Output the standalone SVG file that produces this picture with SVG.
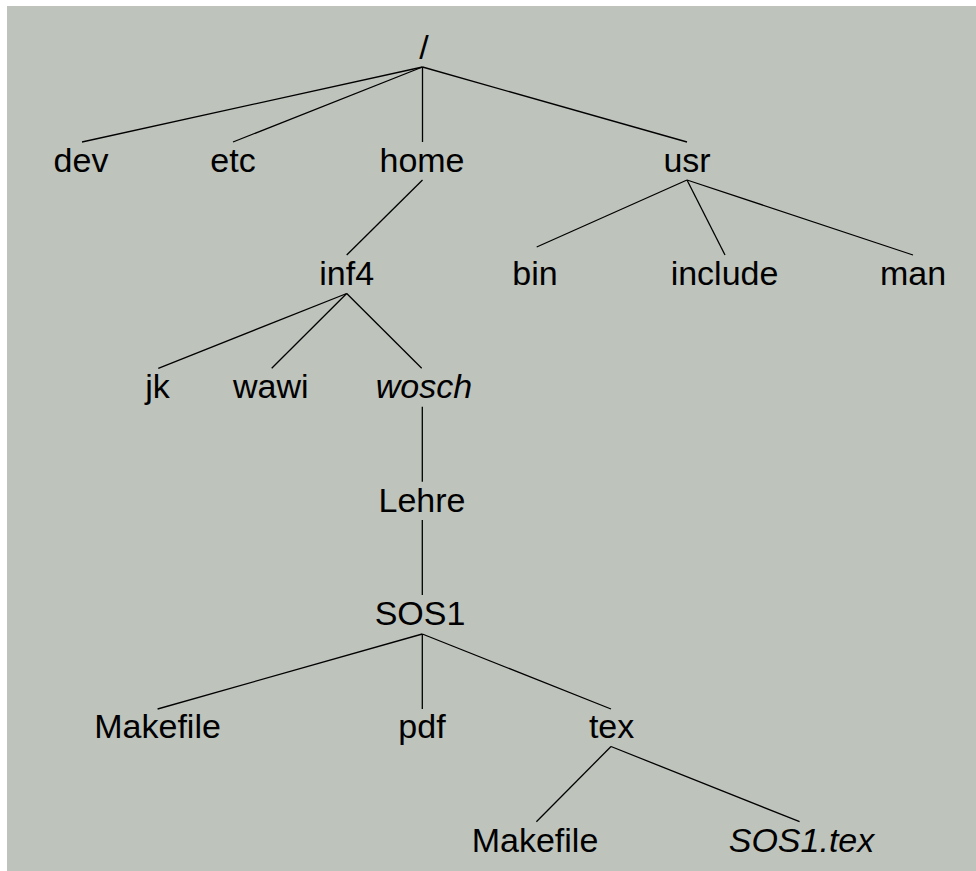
<svg xmlns="http://www.w3.org/2000/svg" width="976" height="871" viewBox="0 0 976 871">
<style>
.t{font-family:"Liberation Sans",Arial,sans-serif;font-size:34px;fill:#000;text-anchor:middle}
.i{font-style:italic}
.c line{stroke:#000;stroke-width:1.3}
</style>
<rect x="0" y="0" width="976" height="871" fill="#ffffff"/>
<rect x="7" y="6" width="969" height="865" fill="#bec3bc"/>
<g id="connectors" class="c">
<line x1="422.5" y1="67" x2="82" y2="142"/>
<line x1="422.5" y1="67" x2="233" y2="142"/>
<line x1="422.5" y1="67" x2="422.5" y2="142"/>
<line x1="422.5" y1="67" x2="687" y2="142"/>
<line x1="422.5" y1="180" x2="346.7" y2="255"/>
<line x1="687" y1="180" x2="536.7" y2="247"/>
<line x1="687" y1="180" x2="725" y2="255"/>
<line x1="687" y1="180" x2="913" y2="255"/>
<line x1="346.7" y1="293.5" x2="158.3" y2="368.3"/>
<line x1="346.7" y1="293.5" x2="271.7" y2="368.3"/>
<line x1="346.7" y1="293.5" x2="421.7" y2="368.3"/>
<line x1="422.3" y1="406.7" x2="422.3" y2="481.7"/>
<line x1="422.3" y1="520" x2="422.3" y2="595"/>
<line x1="422.3" y1="634" x2="157.6" y2="709"/>
<line x1="422.3" y1="634" x2="422.3" y2="709"/>
<line x1="422.3" y1="634" x2="611" y2="709"/>
<line x1="611" y1="746.5" x2="536.4" y2="821.7"/>
<line x1="611" y1="746.5" x2="799.6" y2="821.7"/>
</g>
<g id="n-root"><text class="t" x="424" y="59">/</text></g>
<g id="n-dev"><text class="t" x="81" y="172">dev</text></g>
<g id="n-etc"><text class="t" x="233" y="172">etc</text></g>
<g id="n-home"><text class="t" x="422" y="172">home</text></g>
<g id="n-usr"><text class="t" x="687" y="172">usr</text></g>
<g id="n-inf4"><text class="t" x="346.7" y="285">inf4</text></g>
<g id="n-bin"><text class="t" x="535" y="285">bin</text></g>
<g id="n-include"><text class="t" x="724.5" y="285">include</text></g>
<g id="n-man"><text class="t" x="913" y="285">man</text></g>
<g id="n-jk"><text class="t" x="157.5" y="398">jk</text></g>
<g id="n-wawi"><text class="t" x="270.8" y="398">wawi</text></g>
<g id="n-wosch"><text class="t i" x="424" y="398">wosch</text></g>
<g id="n-lehre"><text class="t" x="422" y="511.7">Lehre</text></g>
<g id="n-sos1"><text class="t" x="420" y="625">SOS1</text></g>
<g id="n-makefile1"><text class="t" x="157.6" y="738">Makefile</text></g>
<g id="n-pdf"><text class="t" x="422" y="738">pdf</text></g>
<g id="n-tex"><text class="t" x="611.6" y="738">tex</text></g>
<g id="n-makefile2"><text class="t" x="535" y="851.7">Makefile</text></g>
<g id="n-sos1tex"><text class="t i" x="801.5" y="851.7">SOS1.tex</text></g>
</svg>
